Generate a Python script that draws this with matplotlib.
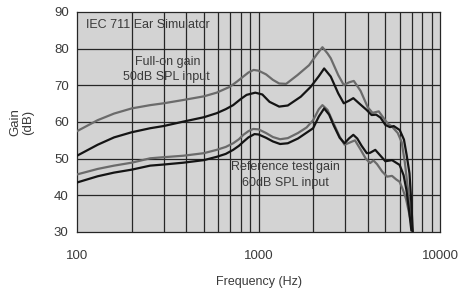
import numpy as np
import matplotlib.pyplot as plt

plt.rcParams['font.family'] = ['Liberation Sans', 'DejaVu Sans']

# Full-on gain, 50dB SPL input (gray)
f_full_gray = [100, 130, 160, 200, 253, 300, 385, 500, 588, 695, 760, 825, 880, 940, 1000,
               1100, 1200, 1300, 1420, 1640, 1900, 2100, 2250, 2400, 2500, 2750, 2950, 3150,
               3350, 3650, 4000, 4250, 4600, 4900, 5150, 5450, 5850, 6150, 6400, 6650, 6850, 7050]
g_full_gray = [57.5, 60.5, 62.3, 63.7, 64.6, 65.1, 66.0, 67.0, 68.0, 69.6, 71.0, 72.4, 73.5, 74.2, 74.0,
               73.0, 71.5, 70.5, 70.4, 72.8, 75.5, 78.5, 80.4, 78.7, 77.4, 72.8, 70.1, 70.8,
               71.2, 68.5, 64.0, 62.5, 62.9, 61.0, 59.6, 58.7, 57.0, 54.5, 49.0, 42.0, 36.0, 30.0]

# Full-on gain (black)
f_full_black = [100, 130, 160, 200, 253, 300, 385, 500, 588, 660, 725, 800, 860, 960, 1050,
                1150, 1300, 1450, 1710, 1940, 2150, 2300, 2500, 2750, 2950, 3150, 3330, 3600,
                3940, 4200, 4450, 4700, 5000, 5300, 5560, 6000, 6330, 6550, 6790, 6950, 7080]
g_full_black = [50.8, 53.8, 55.8, 57.2, 58.3, 58.9, 60.1, 61.3, 62.4, 63.5, 64.6, 66.3, 67.4, 68.0, 67.5,
                65.5, 64.2, 64.5, 66.9, 69.6, 72.5, 74.6, 72.4, 67.8, 65.1, 65.8, 66.5, 65.0,
                63.3, 61.9, 62.0, 61.2, 59.2, 58.6, 58.9, 57.8, 55.2, 51.0, 46.0, 38.0, 30.0]

# Reference test gain, 60dB SPL input (gray)
f_ref_gray = [100, 130, 160, 200, 253, 300, 385, 500, 588, 660, 725, 780, 825, 880, 935, 1000,
              1100, 1200, 1315, 1450, 1650, 1840, 2000, 2150, 2250, 2400, 2600, 2800, 2980,
              3150, 3400, 3650, 3900, 4120, 4300, 4500, 4800, 5110, 5440, 5750, 5990, 6250,
              6500, 6700, 6900, 7050]
g_ref_gray = [45.7, 47.2, 48.1, 48.9, 50.1, 50.4, 50.8, 51.5, 52.4, 53.2, 54.2, 55.3, 56.5, 57.5, 58.1, 58.0,
              57.0, 55.9, 55.3, 55.6, 57.0, 58.5, 60.5, 63.5, 64.6, 63.3, 59.5, 56.0, 53.8,
              54.3, 55.0, 52.5, 50.0, 48.8, 49.5, 48.5, 46.5, 45.1, 45.3, 44.3, 43.7, 41.5,
              39.0, 36.0, 33.0, 30.0]

# Reference test gain (black)
f_ref_black = [100, 130, 160, 200, 253, 300, 385, 500, 588, 660, 725, 780, 825, 880, 950, 1000,
               1100, 1200, 1315, 1450, 1650, 2000, 2150, 2300, 2450, 2600, 2800, 2980, 3150,
               3330, 3500, 3700, 3950, 4120, 4400, 4700, 5000, 5440, 5990, 6300, 6530, 6750, 6950]
g_ref_black = [43.5, 45.2, 46.2, 47.0, 48.1, 48.4, 48.9, 49.6, 50.5, 51.3, 52.4, 53.5, 54.6, 55.8, 56.7, 56.6,
               55.7, 54.7, 54.0, 54.2, 55.5, 58.3, 61.5, 63.7, 62.0, 59.0, 55.7, 54.2, 55.5,
               56.5, 55.5, 53.5, 51.5, 51.6, 52.4, 50.8, 49.3, 49.6, 48.3, 45.5, 41.5, 36.0, 30.5]

x_ticks = [100, 1000, 10000]
y_ticks = [30, 40, 50, 60, 70, 80, 90]

fig = plt.figure(figsize=(4.62, 2.91), dpi=100)
ax = fig.add_axes([77/462, 1 - 232/291, 363/462, 220/291])
ax.set_facecolor('#d3d3d3')

ax.set_xscale('log')
ax.set_xlim(100, 10000)
ax.set_ylim(30, 90)

# grid lines
for v in [200, 300, 400, 500, 600, 700, 800, 900, 1000,
          2000, 3000, 4000, 5000, 6000, 7000, 8000, 9000]:
    ax.axvline(v, color='#262626', lw=0.9, zorder=1)
for h in y_ticks[1:-1]:
    ax.axhline(h, color='#262626', lw=0.9, zorder=1)

ax.plot(f_full_gray, g_full_gray, color='#6b6b6b', lw=1.6, zorder=3, solid_joinstyle='round')
ax.plot(f_ref_gray, g_ref_gray, color='#6b6b6b', lw=1.6, zorder=3, solid_joinstyle='round')
ax.plot(f_full_black, g_full_black, color='#141414', lw=1.6, zorder=4, solid_joinstyle='round')
ax.plot(f_ref_black, g_ref_black, color='#141414', lw=1.6, zorder=4, solid_joinstyle='round')

ax.set_xticks(x_ticks)
ax.set_xticklabels(['100', '1000', '10000'])
ax.set_yticks(y_ticks)
ax.minorticks_off()
ax.tick_params(length=0, labelsize=9.5, colors='#3a3a3a', pad=6)
ax.tick_params(axis='x', pad=13)
for s in ax.spines.values():
    s.set_color('#262626')
    s.set_linewidth(0.9)

ax.set_xlabel('Frequency (Hz)', fontsize=9, color='#3a3a3a', labelpad=10)
ax.set_ylabel('Gain\n(dB)', fontsize=9.5, color='#3a3a3a', labelpad=14, linespacing=1.1)

txt = dict(fontsize=9, color='#3a3a3a', zorder=5)
ax.text(0.025, 0.94, 'IEC 711 Ear Simulator', transform=ax.transAxes, va='center', ha='left', **txt)
ax.text(0.25, 0.773, 'Full-on gain', transform=ax.transAxes, va='center', ha='center', **txt)
ax.text(0.245, 0.705, '50dB SPL input', transform=ax.transAxes, va='center', ha='center', **txt)
ax.text(0.575, 0.297, 'Reference test gain', transform=ax.transAxes, va='center', ha='center', **txt)
ax.text(0.573, 0.223, '60dB SPL input', transform=ax.transAxes, va='center', ha='center', **txt)

fig.savefig('out.png', dpi=100)
